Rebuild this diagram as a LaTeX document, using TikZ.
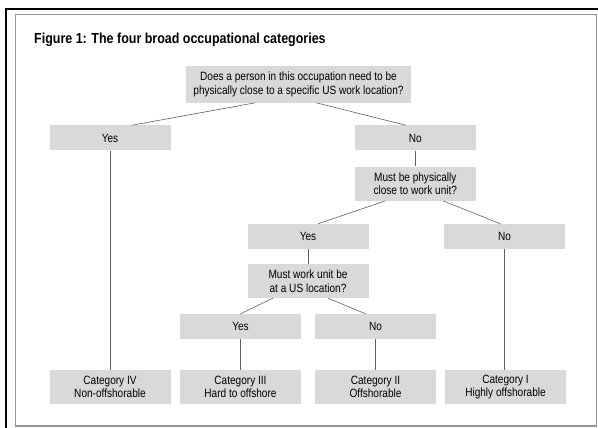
\documentclass[tikz,border=0pt]{standalone}
\usepackage{fontspec}
\usepackage{tikz}
\usetikzlibrary{calc}
\usetikzlibrary{positioning}
\newfontfamily\condfont[FakeStretch=0.84]{Liberation Sans}
\newfontfamily\titlefont[FakeStretch=0.86]{Liberation Sans}
\definecolor{boxgray}{RGB}{217,217,217}
\definecolor{framegray}{RGB}{150,150,150}
\definecolor{linegray}{RGB}{95,95,95}
\tikzset{
  qbox/.style={fill=boxgray, minimum width=121pt, minimum height=25pt,
    inner sep=0pt, align=center,
    font=\condfont\fontsize{12}{13.5}\selectfont},
  link/.style={draw=linegray, line width=0.6pt}
}

\begin{document}
\begin{tikzpicture}[x=1pt,y=-1pt]
\useasboundingbox (0,0) rectangle (598,428);
% frames
\draw[line width=2pt] (6.2,430) -- (6.2,8.8) -- (600,8.8);
\draw[framegray, line width=1.1pt] (15.7,14.3) rectangle (596.5,426);
\node[anchor=base west, inner sep=0pt, font=\titlefont\bfseries\fontsize{14.5}{17}\selectfont]
  (title) at (34,44) {Figure 1: The four broad occupational categories};
%% question and answer boxes
\node[qbox, minimum width=225pt, minimum height=36.7pt] (q1) at (298.5,84.3)
  {Does a person in this occupation need to be\\physically close to a specific US work location?};
\node[qbox] (yes1) at (110,138) {Yes};
\node[qbox] (no1) at (415.3,138) {No};
\node[qbox, minimum height=34pt] (q2) at (415.3,183.7) {Must be physically\\close to work unit?};
\node[qbox] (yes2) at (308,236.5) {Yes};
\node[qbox] (no2) at (504.5,236.5) {No};
\node[qbox, minimum height=34pt] (q3) at (308,281) {Must work unit be\\at a US location?};
\node[qbox] (yes3) at (240.5,326.5) {Yes};
\node[qbox] (no3) at (375.5,326.5) {No};
%% categories
\node[qbox, minimum height=34pt] (cat4) at (110,387) {Category IV\\Non-offshorable};
\node[qbox, minimum height=34pt] (cat3) at (240.5,387) {Category III\\Hard to offshore};
\node[qbox, minimum height=34pt] (cat2) at (375.5,387) {Category II\\Offshorable};
\node[qbox, minimum height=34pt] (cat1) at (505.5,387) {Category I\\Highly offshorable};
%% connectors
\draw[link] ([xshift=-43.5pt]q1.south) -- ([xshift=21.7pt]yes1.north);
\draw[link] ([xshift=18pt]q1.south) -- ([xshift=-9.3pt]no1.north);
\draw[link] ([xshift=-30pt]q2.south) -- ([xshift=10pt]yes2.north);
\draw[link] ([xshift=28pt]q2.south) -- ([xshift=-4pt]no2.north);
\draw[link] ([xshift=-35pt]q3.south) -- (yes3.north);
\draw[link] ([xshift=20pt]q3.south) -- ([xshift=-10pt]no3.north);
\draw[link] (yes1) -- (cat4);
\draw[link] (no1) -- (q2);
\draw[link] (yes2) -- (q3);
\draw[link] (no2.south) -- (no2.south |- cat1.north);
\draw[link] (yes3.south) -- (yes3.south |- cat3.north);
\draw[link] (no3) -- (cat2);
\end{tikzpicture}
\end{document}
